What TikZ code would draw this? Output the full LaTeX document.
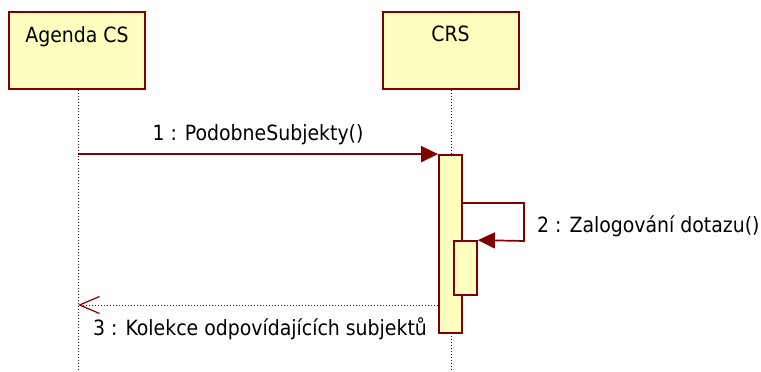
\documentclass[tikz,border=0pt]{standalone}
\usepackage{fontspec}
\setmainfont{DejaVu Sans Condensed}
\usetikzlibrary{arrows.meta}
\definecolor{umlred}{HTML}{800000}
\definecolor{umlfill}{HTML}{FFFFC0}
\tikzset{
  objbox/.style={draw=umlred,fill=umlfill,line width=2pt,minimum width=136pt,minimum height=77pt,inner sep=0pt},
  actbar/.style={draw=umlred,fill=umlfill,line width=1.8pt,minimum width=23pt,inner sep=0pt},
  life/.style={dotted,line width=1pt},
  call/.style={draw=umlred,line width=1.7pt,-{Triangle[length=17pt,width=16pt]}},
  reply/.style={draw=umlred,dotted,line width=1pt,-{Straight Barb[length=20pt,width=17pt,line width=1.2pt]}},
  msgtext/.style={font=\fontsize{21}{25}\selectfont,inner sep=0pt}
}
\begin{document}
\begin{tikzpicture}[x=1pt,y=-1pt]
  \useasboundingbox (0,0) rectangle (761,372);
  \draw
    (77,50.5) node[objbox,label={[msgtext,anchor=north,yshift=-15pt]north:Agenda CS}] (agenda){}
    (450.5,50.5) node[objbox,label={[msgtext,anchor=north,yshift=-15pt]north:CRS}] (crs){};
  \coordinate (agendaend) at (78,372);
  \coordinate (crsend) at (451,372);
  \begin{scope}[life]
    \draw (agenda.south -| agendaend) -- (agendaend);
    \draw (crs.south -| crsend) -- (crsend);
  \end{scope}
  \node[actbar,minimum height=178pt] (act1) at (450.5,244) {};
  \node[actbar,minimum height=54pt] (act2) at (465.5,268) {};
  \coordinate (selfout) at (524,203);
  \coordinate (selfin) at (524,241);
  % messages
  \draw[call] (agendaend |- act1.north) -- node[msgtext,above=8pt]{1 : PodobneSubjekty()} (act1.north west);
  \draw[call] (act1.east |- selfout) -- (selfout) -- (selfin) -- (act2.north east);
  \node[msgtext,anchor=west] (selflabel) at (537,226.5) {2 : Zalogování dotazu()};
  \coordinate (replyin) at (439,305);
  \draw[reply] (act1.west |- replyin) -- (agendaend |- replyin);
  \node[msgtext,anchor=west] (replylabel) at (93,328.5) {3 : Kolekce odpovídajících subjektů};
\end{tikzpicture}
\end{document}
